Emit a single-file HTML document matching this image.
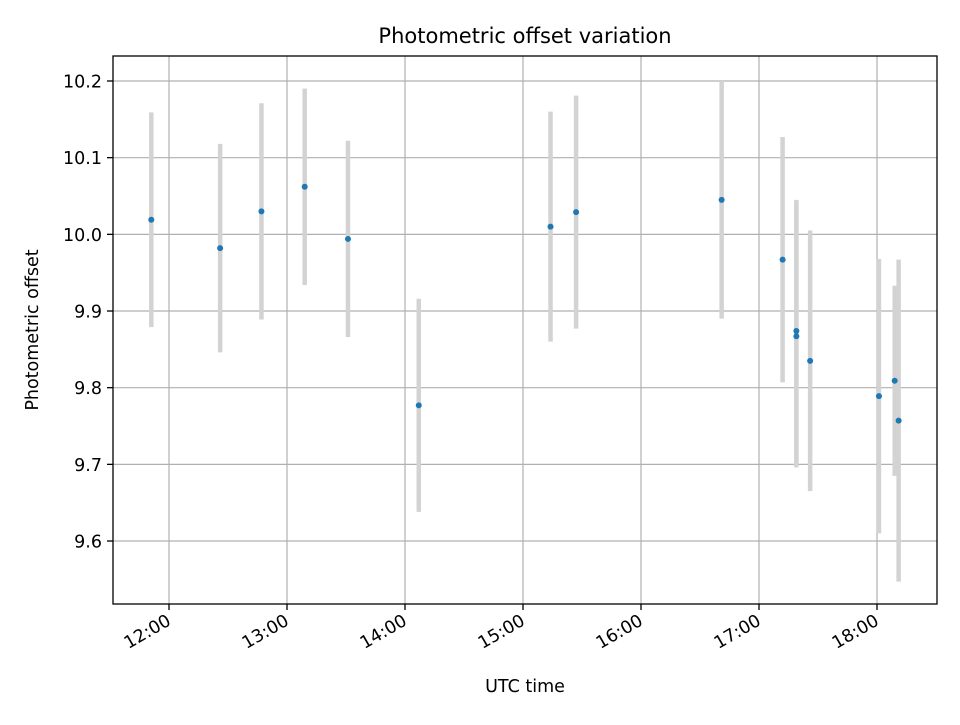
<!DOCTYPE html>
<html><head><meta charset="utf-8"><style>
body{margin:0;background:#fff}
svg{font-family:"DejaVu Sans","Liberation Sans",sans-serif}
</style></head><body>
<svg id="chart" width="960" height="720" viewBox="0 0 960 720">
<rect width="960" height="720" fill="#fff"/>
<text x="525" y="43" text-anchor="middle" font-size="21">Photometric offset variation</text>
<g id="grid"></g><g id="bars"></g><g id="pts"></g><g id="axes"></g>
<rect x="113" y="56" width="824" height="548" fill="none" stroke="#000" stroke-width="1.3"/>
<text x="525" y="692" text-anchor="middle" font-size="17.5">UTC time</text>
<text transform="translate(38,330) rotate(-90)" text-anchor="middle" font-size="17.5">Photometric offset</text>
</svg>
<script>
const times=["11:51","12:26","12:47","13:09","13:31","14:07","15:14","15:27","16:41","17:12","17:19","17:19","17:26","18:01","18:09","18:11"];
const values=[10.019,9.982,10.030,10.062,9.994,9.777,10.010,10.029,10.045,9.967,9.874,9.867,9.835,9.789,9.809,9.757];
const errors=[0.140,0.136,0.141,0.128,0.128,0.139,0.150,0.152,0.155,0.160,0.171,0.171,0.170,0.179,0.124,0.210];
const yTicks=[9.6,9.7,9.8,9.9,10.0,10.1,10.2];
const xTicks=["12:00","13:00","14:00","15:00","16:00","17:00","18:00"];
const NS="http://www.w3.org/2000/svg";
function h(t){const p=t.split(":");return +p[0]+p[1]/60;}
function X(t){return 169+(h(t)-12)*118;}
function Y(v){return 81+(10.2-v)*766.7;}
function mk(tag,attrs,parent){const e=document.createElementNS(NS,tag);for(const k in attrs)e.setAttribute(k,attrs[k]);document.getElementById(parent).appendChild(e);return e;}
yTicks.forEach(v=>{
 const y=Y(v);
 const g=mk("line",{x1:113,x2:937,y1:y,y2:y,stroke:"#b0b0b0","stroke-width":1.2},"grid");
 
 
 mk("line",{x1:107,x2:113,y1:y,y2:y,stroke:"#000","stroke-width":1.3},"axes");
 const t=mk("text",{x:102,y:y+6.5,"text-anchor":"end","font-size":17.5},"axes");
 t.textContent=v.toFixed(1);
 
 
});
xTicks.forEach(s=>{
 const x=X(s);
 const g=mk("line",{x1:x,x2:x,y1:56,y2:604,stroke:"#b0b0b0","stroke-width":1.2},"grid");
 
 
 mk("line",{x1:x,x2:x,y1:604,y2:610,stroke:"#000","stroke-width":1.3},"axes");
 const t=mk("text",{x:x+3,y:624,"text-anchor":"end","font-size":17.5,transform:`rotate(-30 ${x+3} 624)`},"axes");
 t.textContent=s;
 
 
});
times.forEach((t,i)=>{
 const x=X(t);
 const b=mk("line",{x1:x,x2:x,y1:Y(values[i]+errors[i]),y2:Y(values[i]-errors[i]),stroke:"#d3d3d3","stroke-width":4.5},"bars");
 
 
});
times.forEach((t,i)=>{
 const c=mk("circle",{cx:X(t),cy:Y(values[i]),r:3,fill:"#1f77b4"},"pts");
 
 
});
</script>
</body></html>
